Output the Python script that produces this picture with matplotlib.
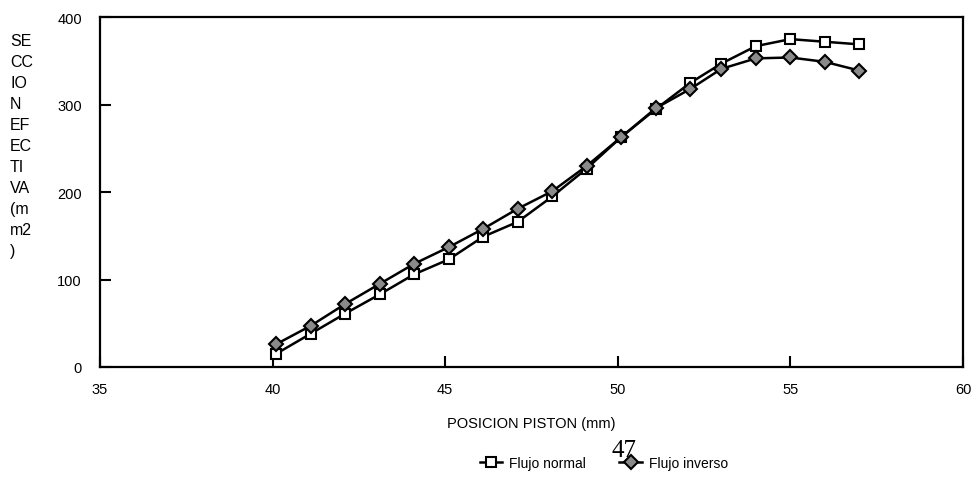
import matplotlib
matplotlib.use('Agg')
import matplotlib.pyplot as plt

plt.rcParams['font.family'] = ['Liberation Sans', 'DejaVu Sans']

# posicion piston (mm)
posicion = [40.1, 41.1, 42.1, 43.1, 44.1, 45.1, 46.1, 47.1, 48.1, 49.1,
            50.1, 51.1, 52.1, 53.0, 54.0, 55.0, 56.0, 57.0]
# seccion efectiva (mm2)
flujo_normal = [15, 38, 61, 83, 106, 123, 149, 166, 195, 227,
                263, 295, 325, 347, 367, 375, 372, 369]
flujo_inverso = [26, 47, 72, 95, 118, 137, 158, 181, 201, 230,
                 263, 296, 318, 341, 353, 354, 349, 339]

xticks = [35, 40, 45, 50, 55, 60]
yticks = [0, 100, 200, 300, 400]

fig = plt.figure(figsize=(9.74, 4.81), dpi=100)
ax = fig.add_axes([0.1027, 0.235, 0.886, 0.727])

ax.plot(posicion, flujo_normal, color='black', lw=1.8, marker='s', markersize=7.5,
        markerfacecolor='white', markeredgecolor='black', markeredgewidth=1.5,
        label='Flujo normal', zorder=3)
ax.plot(posicion, flujo_inverso, color='black', lw=1.8, marker='D', markersize=7,
        markerfacecolor='#8a8a8a', markeredgecolor='black', markeredgewidth=1.5,
        label='Flujo inverso', zorder=4)

ax.set_xlim(35, 60)
ax.set_ylim(0, 400)
ax.set_xticks(xticks)
ax.set_yticks(yticks)
ax.tick_params(direction='in', length=8, width=1.5, labelsize=10.5)
ax.tick_params(axis='y', pad=13)
ax.tick_params(axis='x', pad=11)
for s in ax.spines.values():
    s.set_linewidth(1.6)

ax.set_xlabel('POSICION PISTON (mm)', fontsize=10.5, labelpad=14)

# vertical broken-up label on the left
fig.text(10 / 974, 1 - 34 / 481, 'SE\nCC\nIO\nN\nEF\nEC\nTI\nVA\n(m\nm2\n)',
         ha='left', va='top', fontsize=11.5, linespacing=1.5)

fig.legend(loc='center', bbox_to_anchor=(0.62, 0.035), ncol=2, frameon=False,
           fontsize=10, handlelength=1.6, columnspacing=2.4, handletextpad=0.5)

# page number from the scanned document
fig.text(624 / 974, 1 - 451 / 481, '47', ha='center', va='center',
         family='Liberation Serif', fontsize=18)

fig.savefig('out.png', dpi=100)
